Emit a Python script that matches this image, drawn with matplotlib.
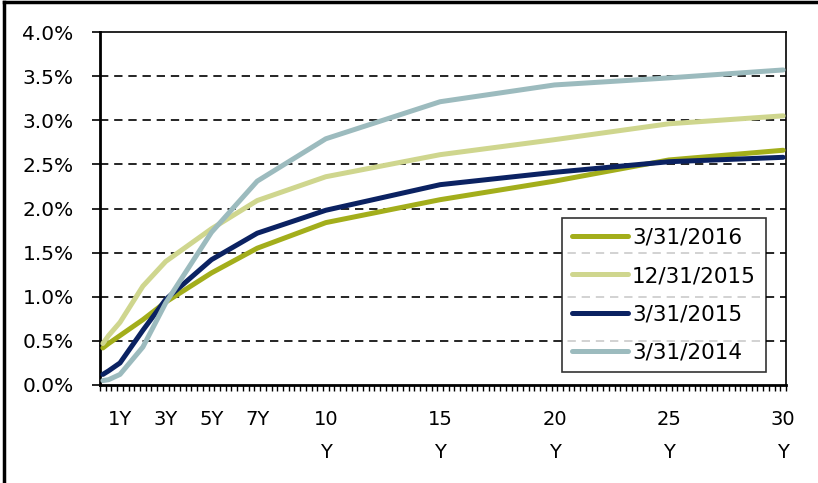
import matplotlib
matplotlib.use("Agg")
import matplotlib.pyplot as plt
from matplotlib.lines import Line2D
import numpy as np

# maturities (years) and yields (%)
maturities = [0.25, 0.5, 1, 2, 3, 5, 7, 10, 15, 20, 25, 30]
curve_2016_03 = [0.42, 0.47, 0.56, 0.74, 0.94, 1.27, 1.55, 1.84, 2.10, 2.31, 2.55, 2.66]
curve_2015_12 = [0.47, 0.56, 0.71, 1.12, 1.40, 1.77, 2.09, 2.36, 2.61, 2.78, 2.96, 3.05]
curve_2015_03 = [0.12, 0.16, 0.25, 0.62, 0.97, 1.42, 1.72, 1.98, 2.27, 2.41, 2.53, 2.58]
curve_2014_03 = [0.05, 0.06, 0.12, 0.43, 0.93, 1.73, 2.31, 2.79, 3.21, 3.40, 3.48, 3.57]

series_labels = ["3/31/2016", "12/31/2015", "3/31/2015", "3/31/2014"]
series_colors = ["#A3AE1B", "#CFD68E", "#0B2262", "#9CBBBE"]

tick_years = [1, 3, 5, 7, 10, 15, 20, 25, 30]
tick_labels = ["1Y", "3Y", "5Y", "7Y", "10\nY", "15\nY", "20\nY", "25\nY", "30\nY"]

plt.rcParams['font.family'] = ['DejaVu Sans']

fig = plt.figure(figsize=(8.18, 4.83), dpi=100)
ax = fig.add_axes([100/818, 1 - 385/483, 686/818, 353/483])

# category axis: each quarter is one slot, points sit in the middle of it
x = np.array(maturities) - 0.125
for vals, lab, col in zip([curve_2016_03, curve_2015_12, curve_2015_03, curve_2014_03],
                          series_labels, series_colors):
    ax.plot(x, vals, color=col, lw=3.6, label=lab, solid_capstyle='round', zorder=3)

ax.set_xlim(0, 30)
ax.set_ylim(0, 4.0)

yt = np.arange(0, 4.01, 0.5)
ax.set_yticks(yt)
ax.set_yticklabels([f"{v:.1f}%" for v in yt], fontsize=14.5)
for v in yt[1:-1]:
    ax.axhline(v, color='black', lw=1.2, ls=(0, (5, 3.5)), zorder=1)

ax.set_xticks(np.array(tick_years) - 0.125)
ax.set_xticklabels(tick_labels, fontsize=14, linespacing=1.95)
ax.set_xticks(np.arange(0, 30.01, 0.25), minor=True)
ax.tick_params(axis='x', which='major', length=0, pad=18)
ax.tick_params(axis='x', which='minor', direction='out', length=4.5, width=1)
ax.tick_params(axis='y', direction='out', length=6, width=1.2, pad=13)

for side in ['left', 'bottom']:
    ax.spines[side].set_linewidth(2)
for side in ['top', 'right']:
    ax.spines[side].set_linewidth(1.2)

leg = ax.legend(loc='upper left', bbox_to_anchor=(0.6735, 0.473), fontsize=15.5,
                frameon=True, fancybox=False, handlelength=2.6, handletextpad=0.2,
                borderpad=0.45, labelspacing=0.85, borderaxespad=0)
leg.get_frame().set_edgecolor('black')
leg.get_frame().set_linewidth(1.2)

# outer chart frame (left and top)
fig.add_artist(Line2D([4/818, 4/818], [0, 1 - 2/483], color='black', lw=2.5))
fig.add_artist(Line2D([4/818, 1], [1 - 2/483, 1 - 2/483], color='black', lw=2.5))

fig.savefig("out.png", dpi=100)
